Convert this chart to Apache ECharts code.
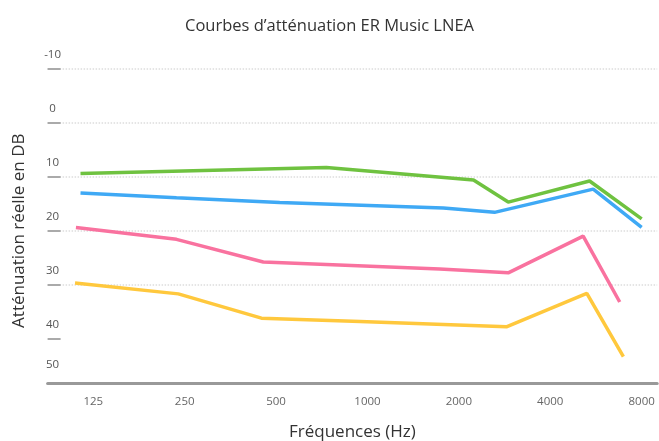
<!DOCTYPE html>
<html>
<head>
<meta charset="utf-8">
<script src="https://cdn.jsdelivr.net/npm/echarts@6/dist/echarts.min.js"></script>
<style>
  html, body { margin: 0; padding: 0; background: #fff; }
  #main { width: 659px; height: 441px; }
</style>
</head>
<body>
<div id="main"></div>
<script>
// octave position: 0 = 125 Hz, 1 = 250 Hz ... 6 = 8000 Hz
var freqLabels = ['125', '250', '500', '1000', '2000', '4000', '8000'];
var yTicks = [-10, 0, 10, 20, 30, 40, 50];

// [octave position, attenuation dB]
var green  = [[-0.14, 9.4], [2.55, 8.3], [4.16, 10.6], [4.54, 14.7], [5.43, 10.8], [6.0, 17.8]];
var blue   = [[-0.14, 13.0], [0.91, 13.9], [2.04, 14.8], [3.83, 15.8], [4.39, 16.6], [5.47, 12.3], [6.0, 19.4]];
var pink   = [[-0.19, 19.4], [0.91, 21.6], [1.86, 25.8], [3.79, 27.1], [4.54, 27.8], [5.36, 21.0], [5.76, 33.2]];
var yellow = [[-0.20, 29.7], [0.93, 31.7], [1.84, 36.2], [2.92, 36.8], [4.52, 37.8], [5.40, 31.6], [5.80, 43.3]];

var myChart = echarts.init(document.getElementById('main'));

function line(data, color) {
  return {
    type: 'line',
    data: data,
    showSymbol: false,
    lineStyle: { color: color, width: 3.5 },
    itemStyle: { color: color }
  };
}

var option = {
  animation: false,
  textStyle: { fontFamily: 'Open Sans' },
  title: {
    text: 'Courbes d’atténuation ER Music LNEA',
    left: 'center',
    top: 13,
    textStyle: { fontSize: 16.5, fontWeight: 'normal', color: '#333', fontFamily: 'Open Sans' }
  },
  grid: { left: 47.6, right: 1.8, top: 68.7, bottom: 48.3, outerBoundsMode: 'none' },
  xAxis: {
    type: 'value',
    min: -0.5,
    max: 6.17,
    offset: -9.4,
    name: 'Fréquences (Hz)',
    nameLocation: 'middle',
    nameGap: 40,
    nameTextStyle: { fontSize: 17, color: '#333' },
    axisLine: { onZero: false, lineStyle: { color: '#999', width: 3 } },
    axisTick: { show: false },
    splitLine: { show: false },
    axisLabel: {
      customValues: [0, 1, 2, 3, 4, 5, 6],
      formatter: function (v) { return freqLabels[Math.round(v)]; },
      color: '#666',
      fontSize: 11.5,
      margin: 12
    }
  },
  yAxis: {
    type: 'value',
    inverse: true,
    min: -10,
    max: 50,
    interval: 10,
    name: 'Atténuation réelle en DB',
    nameLocation: 'middle',
    nameGap: 20,
    nameTextStyle: { fontSize: 17, color: '#333' },
    axisLine: { show: false, onZero: false },
    axisTick: {
      show: true,
      inside: true,
      length: 13,
      customValues: [-10, 0, 10, 20, 30, 40],
      lineStyle: { color: '#aaa', width: 2 }
    },
    splitLine: {
      show: true,
      showMaxLine: false,
      lineStyle: { color: '#ddd', width: 1.5, type: 'dotted' }
    },
    axisLabel: {
      customValues: yTicks,
      align: 'center',
      verticalAlign: 'bottom',
      margin: -5,
      padding: [0, 0, 8, 0],
      color: '#555',
      fontSize: 11.5,
      formatter: function (v) {
        return v === 50 ? '{last|50}' : String(v);
      },
      rich: { last: { color: '#555', fontSize: 11.5, padding: [0, 0, 14, 0] } }
    }
  },
  series: [
    line(green, '#6fc240'),
    line(blue, '#3fa9f5'),
    line(pink, '#f9729f'),
    line(yellow, '#ffc83d')
  ]
};

myChart.setOption(option);
</script>
</body>
</html>
